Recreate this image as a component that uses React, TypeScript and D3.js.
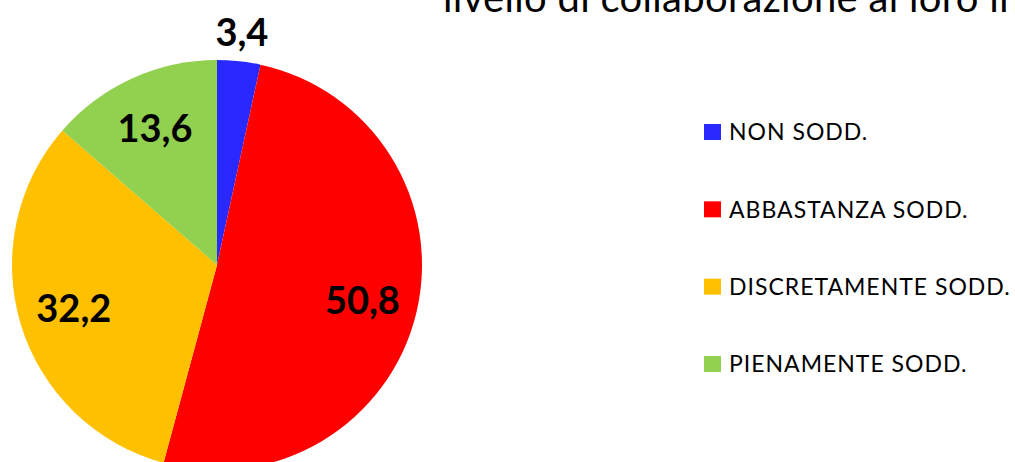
import React, { useEffect, useRef } from 'react';
import * as d3 from 'd3';

const categories = ['NON SODD.', 'ABBASTANZA SODD.', 'DISCRETAMENTE SODD.', 'PIENAMENTE SODD.'];
const values = [3.4, 50.8, 32.2, 13.6];
const sliceColors = ['#2828FF', '#FF0000', '#FFC000', '#92D050'];
const titleText = 'livello di collaborazione al loro in';

const W = 1015, H = 462;

export default function App() {
  const ref = useRef<SVGSVGElement>(null);

  useEffect(() => {
    const svg = d3.select(ref.current);
    svg.selectAll('*').remove();

    const cx = 217, cy = 265, r = 205;
    const font = 'Lato, "Open Sans", sans-serif';

    // title (cut at top like the source slide)
    svg.append('text')
      .attr('x', 443)
      .attr('y', 12)
      .attr('font-family', font)
      .attr('font-size', 40)
      .attr('letter-spacing', 0.3)
      .attr('fill', '#000')
      .text(titleText);

    const data = categories.map((c, i) => ({ name: c, value: values[i], color: sliceColors[i] }));
    const pie = d3.pie<any>().value(d => d.value).sort(null);
    const arcs = pie(data);
    const arc = d3.arc<any>().innerRadius(0).outerRadius(r);

    const g = svg.append('g').attr('transform', `translate(${cx},${cy})`);
    g.selectAll('path')
      .data(arcs)
      .enter()
      .append('path')
      .attr('d', arc)
      .attr('fill', d => d.data.color);

    // data labels: the tiny slice sits outside, the rest inside
    g.selectAll('text.lbl')
      .data(arcs)
      .enter()
      .append('text')
      .attr('class', 'lbl')
      .each(function (d) {
        const mid = (d.startAngle + d.endAngle) / 2;
        const k = d.data.value < 5 ? 1.14 : 0.73;
        d3.select(this)
          .attr('x', Math.sin(mid) * r * k)
          .attr('y', -Math.cos(mid) * r * k);
      })
      .attr('text-anchor', 'middle')
      .attr('dy', '0.36em')
      .attr('font-family', font)
      .attr('font-weight', 'bold')
      .attr('font-size', 38)
      .attr('fill', '#000')
      .text(d => String(d.data.value).replace('.', ','));

    // legend
    const y = d3.scalePoint<string>().domain(categories).range([132, 364]);
    const leg = svg.append('g');
    const rows = leg.selectAll('g')
      .data(data)
      .enter()
      .append('g')
      .attr('transform', d => `translate(704,${y(d.name)})`);
    rows.append('rect')
      .attr('x', 0)
      .attr('y', -8)
      .attr('width', 17)
      .attr('height', 16)
      .attr('fill', d => d.color);
    rows.append('text')
      .attr('x', 25)
      .attr('dy', '0.36em')
      .attr('font-family', font)
      .attr('font-size', 23)
      .attr('letter-spacing', 1)
      .attr('fill', '#000')
      .text(d => d.name);
  }, []);

  return (
    <svg ref={ref} width={W} height={H}
      style={{ position: 'absolute', left: 0, top: 0, background: '#fff' }} />
  );
}
